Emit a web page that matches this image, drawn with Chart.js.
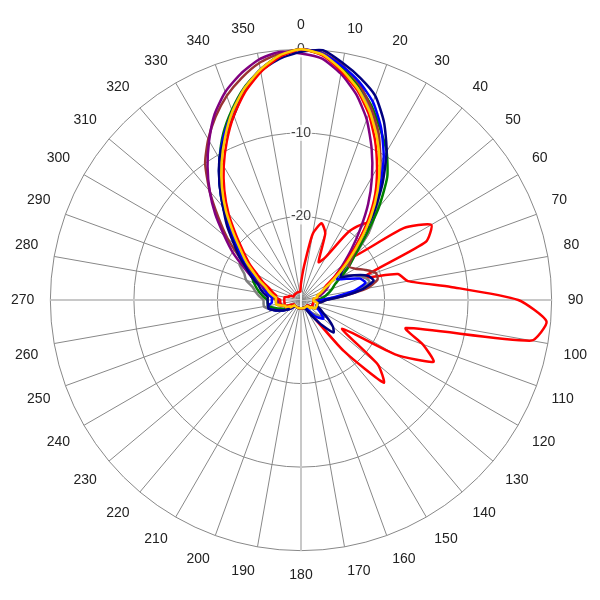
<!DOCTYPE html>
<html>
<head>
<meta charset="utf-8">
<script src="https://cdn.jsdelivr.net/npm/chart.js@4/dist/chart.umd.min.js"></script>
<style>
  html, body { margin: 0; padding: 0; background: #fff; }
  #wrap { width: 600px; height: 600px; }
</style>
</head>
<body>
<div id="wrap"><canvas id="polarChart"></canvas></div>
<script>
// Ángulos cada 5 grados (solo se rotulan los múltiplos de 10)
const angles = [];
for (let a = 0; a < 360; a += 5) angles.push(a);

const radialTicks = [0, -10, -20];

// Valores en dB, índice i = ángulo 5*i
const yellowDb = [0,-0.5,-2,-3.8,-6,-8.5,-11.2,-14,-17,-20,-22.5,-24.5,-26,-27,-27.5,-28,-28,-28.5,
  -28.5,-28.5,-28,-28,-28,-28,-28,-28.5,-28.5,-29,-29,-29,-29,-29,-29,-29,-29,-29,
  -29,-29,-29,-29,-29,-29,-29,-29,-29,-29,-29,-28.5,-28.5,-28,-28,-27.5,-27,-27,
  -27,-27,-26.5,-26,-25.5,-24.5,-23.5,-22,-20.5,-18.5,-16,-13.5,-11,-8.5,-6,-3.8,-2,-0.6];
const navyDb = [-0.3,0,-1.2,-2.5,-4,-6.5,-9.5,-13,-16.5,-20,-22.5,-24,-24.5,-23,-21.5,-21,-22.5,-25,
  -27,-27.5,-28,-28,-28,-27.5,-27,-26,-25,-24.5,-26,-27.5,-28.5,-29,-29,-29,-29,-29,
  -29,-29,-29,-29,-29,-29,-29,-29,-29,-29,-28.5,-28,-27.5,-27,-26.5,-26,-26,-26,
  -26,-26,-25.5,-25,-24.5,-23.5,-22.5,-21,-19.5,-17.5,-15.5,-13,-10.5,-8.5,-6.5,-4,-2.2,-1];
const blueDb = [0,-0.4,-1.6,-3,-4.8,-7.3,-10.2,-13.5,-17,-20.5,-23,-24.5,-25,-24,-22.5,-22,-23.5,-26,
  -27.5,-28,-28,-28,-28,-28,-27.5,-27,-26.5,-27,-27.5,-28.5,-29,-29,-29,-29,-29,-29,
  -29,-29,-29,-29,-29,-29,-29,-29,-29,-29,-28.5,-28,-27.5,-27,-26.5,-26,-26,-26.5,
  -26.5,-26.5,-26,-25.5,-25,-24,-22.5,-21.5,-20,-18,-15.5,-13,-10.5,-8.2,-6,-3.8,-2,-0.7];
const purpleDb = [-0.5,-1,-2.5,-4.5,-7,-10,-13,-16,-19,-21.5,-23.5,-25,-26,-26.5,-27,-27.5,-28,-28,
  -28.5,-28.5,-28.5,-28.5,-28.5,-28.5,-28.5,-28.5,-29,-29,-29,-29,-29,-29,-29,-29,-29,-29,
  -29,-29,-29,-29,-29,-29,-29,-29,-29,-29,-29,-28.5,-28.5,-28,-28,-27.5,-27.5,-27,
  -27.5,-27,-26.5,-26,-25,-23.5,-22,-20,-18,-15.5,-13,-10.5,-8,-5.5,-3.5,-2,-0.8,-0.2];
const brownDb = [0,-0.3,-1.5,-3.2,-5.5,-8,-11,-14,-17,-20,-22,-23,-22.5,-21.5,-20.5,-20.5,-22,-25,
  -27,-27.5,-28,-28,-28,-28,-28,-28.5,-28.5,-29,-29,-29,-29,-29,-29,-29,-29,-29,
  -29,-29,-29,-29,-29,-29,-29,-29,-29,-29,-29,-28.5,-28.5,-28,-28,-27.5,-27,-27,
  -27,-26.5,-26,-25.5,-25,-24,-23,-21,-18.5,-16,-13,-10,-7.8,-5.8,-4,-2.5,-1.2,-0.4];
const greenDb = [0,-0.5,-1.8,-3.4,-5.3,-7.5,-9.5,-12,-15.5,-19,-21.5,-23,-24.5,-25.5,-26,-26.5,-27,-27.5,
  -28,-28,-28,-28,-28,-28,-28,-28.5,-28.5,-29,-29,-29,-29,-29,-29,-29,-29,-29,
  -29,-29,-29,-29,-29,-29,-29,-29,-29,-29,-29,-28.5,-28,-27.5,-27,-26.5,-26,-26,
  -26,-25.5,-25,-24.5,-24,-23.5,-22.5,-21.5,-20,-18,-15.5,-13,-10.5,-8,-5.8,-3.7,-2,-0.6];
const grayDb = [0,-0.5,-1.9,-3.6,-5.8,-8.3,-11,-13.5,-16,-18.5,-21.5,-23.5,-24,-23,-22,-21.5,-23,-25.5,
  -27.5,-28,-28,-28,-28,-27.5,-27,-26.5,-27,-27.5,-28,-28.5,-29,-29,-29,-29,-29,-29,
  -29,-29,-29,-29,-29,-29,-29,-29,-29,-29,-28.5,-28,-27.5,-27,-26.5,-26,-25.5,-25.5,
  -25.5,-25,-24.5,-24,-23,-22.5,-21.5,-21.5,-20,-18,-15.7,-13.2,-10.8,-8.4,-6,-3.8,-2,-0.6];
const redDb = [0,-0.6,-2.2,-4,-6.3,-9,-11.8,-14.5,-17.5,-20.5,-23,-25,-26.5,-27,-27.5,-28,-28,-28.5,
  -28.5,-28.5,-28.5,-28.5,-28.5,-28.5,-28.5,-28.5,-29,-29,-29,-29,-29,-29,-29,-29,-29,-29,
  -29,-29,-29,-29,-29,-29,-29,-29,-29,-29,-29,-28.5,-28.5,-28,-28,-27.5,-27.5,-27.5,
  -27.5,-27,-27,-26.5,-26,-25,-24,-22.5,-21,-19,-16.5,-14,-11.5,-9,-6.5,-4.2,-2.3,-0.8];
const redSideDb = [-28,-26,-22,-20.5,-21.5,-25,-24,-20,-18,-18.5,-22,-15,-12,-13.5,-22,-18,-17,-12,
  -4,-0.5,-2,-17,-14.5,-12.5,-17,-24,-18,-16,-22,-28,-29,-29,-29,-29,-29,-29,
  -29,-29,-29,-29,-29,-29,-29,-29,-29,-29,-29,-29,-29,-28.5,-28,-28,-28,-28,
  -28,-28,-28,-28.5,-28.5,-29,-29,-29,-29,-29,-29,-29,-29,-29,-29,-29,-29,-29];

// El primer conjunto se dibuja encima
const seriesList = [
  { data: yellowDb, color: '#ffcc00' },
  { data: redDb, color: '#ff0000' },
  { data: navyDb, color: '#000080' },
  { data: purpleDb, color: '#800080' },
  { data: blueDb, color: '#0000ff' },
  { data: brownDb, color: '#993333' },
  { data: greenDb, color: '#008000' },
  { data: grayDb, color: '#808080' },
  { data: redSideDb, color: '#ff0000' }
];

new Chart(document.getElementById('polarChart'), {
  type: 'radar',
  data: {
    labels: angles,
    datasets: seriesList.map(s => ({
      data: s.data,
      borderColor: s.color,
      borderWidth: 2.5,
      pointRadius: 0,
      fill: false,
      tension: 0.2
    }))
  },
  options: {
    responsive: true,
    maintainAspectRatio: false,
    animation: false,
    layout: { padding: 10 },
    plugins: { legend: { display: false }, tooltip: { enabled: false } },
    scales: {
      r: {
        min: -30,
        max: 0,
        startAngle: 0,
        ticks: {
          stepSize: 10,
          color: '#444',
          font: { family: "'Liberation Sans', Arial, sans-serif", size: 14 },
          backdropColor: 'rgba(255,255,255,0.8)',
          backdropPadding: 1,
          callback: v => radialTicks.includes(v) ? String(v) : ''
        },
        grid: { color: '#888', lineWidth: 1 },
        angleLines: {
          color: ctx => (ctx.index % 2 === 1) ? 'rgba(0,0,0,0)' : (ctx.index % 18 === 0 ? '#c8c8c8' : '#888'),
          lineWidth: ctx => (ctx.index % 18 === 0) ? 2 : 1
        },
        pointLabels: {
          color: '#222',
          padding: 8,
          font: { family: "'Liberation Sans', Arial, sans-serif", size: 14 },
          callback: (label) => (label % 10 === 0) ? String(label) : ''
        }
      }
    }
  }
});
</script>
</body>
</html>
